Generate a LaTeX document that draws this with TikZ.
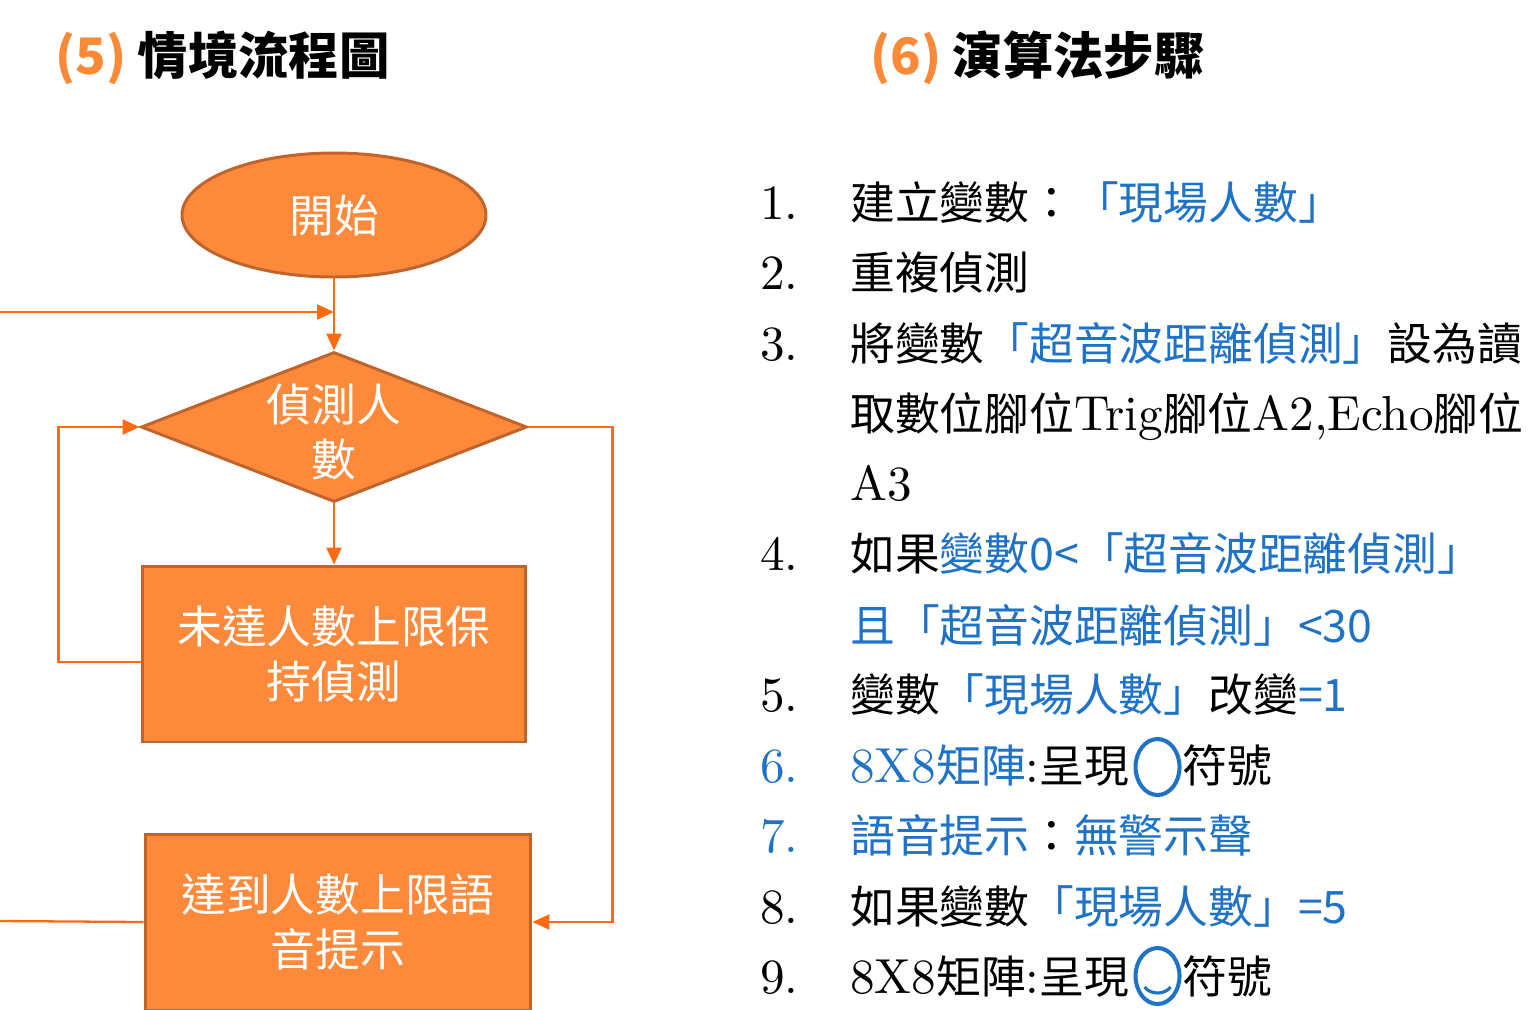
\documentclass[tikz,border=0pt]{standalone}
\usepackage{fontspec}
\usetikzlibrary{shapes.geometric,arrows.meta,calc}
\setmainfont{lmroman10-regular}[Extension=.otf]
\newfontfamily\cjk[Scale=0.91]{Noto Sans CJK TC}
\definecolor{connor}{HTML}{FF6A13}
\definecolor{shfill}{HTML}{FD8A3B}
\definecolor{shborder}{HTML}{C0642C}
\definecolor{ttlor}{HTML}{FB8A38}
\definecolor{myblue}{HTML}{1E73C8}
\newcommand\C[1]{{\cjk #1}}
\newcommand\B[1]{{\color{myblue}#1}}
\begin{document}
\begin{tikzpicture}[x=0.02cm,y=-0.02cm,
  shapebox/.style={draw=shborder,fill=shfill,line width=1.7pt,inner sep=0pt,
    text=white,font=\fontsize{28}{31}\selectfont\cjk,align=center},
  shtext/.style={text=white,font=\fontsize{28}{31}\selectfont\cjk,align=center,inner sep=0pt},
  arrowline/.style={draw=connor,line width=1.3pt,-{Triangle[length=0.34cm,width=0.3cm]}},
  plainline/.style={draw=connor,line width=1.3pt},
  lt/.style={anchor=base west,inner sep=0pt,font=\fontsize{28}{28}\selectfont},
  ttl/.style={anchor=base west,inner sep=0pt,font=\fontsize{31.5}{31.5}\selectfont\cjk\bfseries},
  ring/.style={draw=myblue,line width=2.3pt}]
\useasboundingbox (0,0) rectangle (1539,1009);
% titles
\node[ttl] (t5) at (55,74) {\textcolor{ttlor}{(5)} 情境流程圖};
\node[ttl] (t6) at (870,74) {\textcolor{ttlor}{(6)} 演算法步驟};
% flowchart
\node[shapebox,ellipse,minimum width=6.08cm,minimum height=2.48cm] (start) at (334,215) {開始};
\node[shapebox,diamond,minimum width=7.72cm,minimum height=3cm] (d) at (334,427) {};
\node[shtext] (dt) at (334,432) {偵測人\\數};
\node[shapebox,rectangle,minimum width=7.68cm,minimum height=3.52cm] (r1) at (334,654) {未達人數上限保\\持偵測};
\node[shapebox,rectangle,minimum width=7.72cm,minimum height=3.52cm] (r2) at (338,922) {達到人數上限語\\音提示};
\coordinate (inL) at (0,312);
\coordinate (m1) at (334,312);
\coordinate (outL) at (0,921);
\draw[arrowline] (start.south) -- (d.north);
\draw[arrowline] (inL) -- (m1);
\draw[arrowline] (d.south) -- (r1.north);
\draw[arrowline] ([yshift=-0.16cm]r1.west) -- ++(-82,0) |- (d.west);
\draw[arrowline] (d.east) -- ++(84,0) |- (r2.east);
\draw[plainline] (r2.west) -- (outL);
% algorithm steps
\node[lt] (n1) at (760,219) {1.};
\node[lt] (s1) at (850,219) {\C{建立變數：}\B{\C{「現場人數」}}};
\node[lt] (n2) at (760,289) {2.};
\node[lt] (s2) at (850,289) {\C{重複偵測}};
\node[lt] (n3) at (760,360) {3.};
\node[lt] (s3) at (850,360) {\C{將變數}\B{\C{「超音波距離偵測」}}\C{設為讀}};
\node[lt] (s3b) at (850,430) {\C{取數位腳位}Trig\C{腳位}A2,Echo\C{腳位}};
\node[lt] (s3c) at (850,500) {A3};
\node[lt] (n4) at (760,570) {4.};
\node[lt] (s4) at (850,570) {\C{如果}\B{\C{變數0<「超音波距離偵測」}}};
\node[lt] (s4b) at (850,642) {\B{\C{且「超音波距離偵測」<30}}};
\node[lt] (n5) at (760,711) {5.};
\node[lt] (s5) at (850,711) {\C{變數}\B{\C{「現場人數」}}\C{改變}\B{\C{=1}}};
\node[lt] (n6) at (760,782) {\B{6.}};
\node[lt] (s6a) at (850,782) {\B{8X8\C{矩陣}}:\C{呈現}};
\coordinate (c6) at ($(s6a.base east)+(28,-15)$);
\draw[ring] (c6) ellipse [x radius=0.44cm, y radius=0.56cm];
\node[lt] (s6b) at ($(s6a.base east)+(53,0)$) {\C{符號}};
\node[lt] (n7) at (760,852) {\B{7.}};
\node[lt] (s7) at (850,852) {\B{\C{語音提示}}\C{：}\B{\C{無警示聲}}};
\node[lt] (n8) at (760,923) {8.};
\node[lt] (s8) at (850,923) {\C{如果變數}\B{\C{「現場人數」=5}}};
\node[lt] (n9) at (760,993) {9.};
\node[lt] (s9a) at (850,993) {8X8\C{矩陣}:\C{呈現}};
\coordinate (c9) at ($(s9a.base east)+(28,-17)$);
\draw[ring] (c9) ellipse [x radius=0.44cm, y radius=0.56cm];
\draw[ring,line width=1.8pt] ($(c9)+(-13,11)$) .. controls ($(c9)+(-7,19)$) and ($(c9)+(7,19)$) .. ($(c9)+(13,11)$);
\node[lt] (s9b) at ($(s9a.base east)+(53,0)$) {\C{符號}};
\end{tikzpicture}
\end{document}
